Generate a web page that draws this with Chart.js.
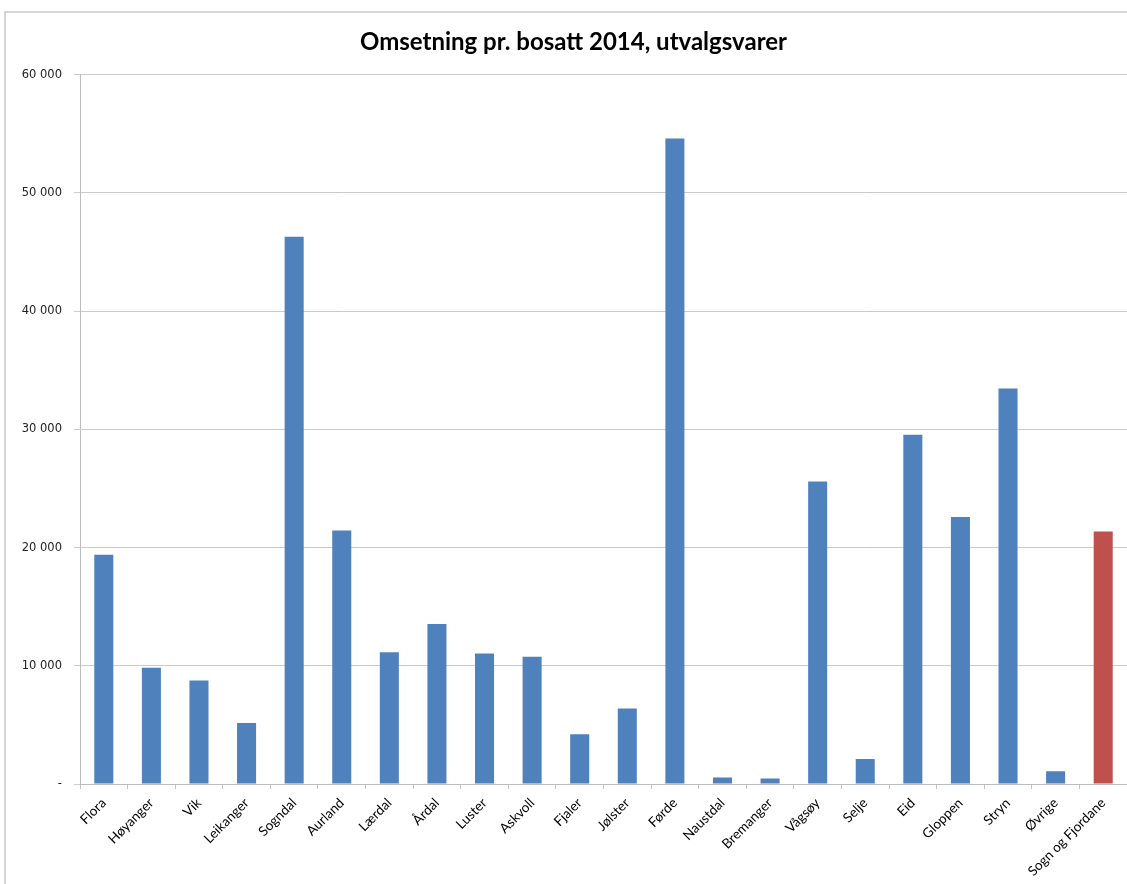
<!DOCTYPE html>
<html>
<head>
<meta charset="utf-8">
<script src="https://cdn.jsdelivr.net/npm/chart.js@4"></script>
<style>
  html, body { margin: 0; padding: 0; background: #fff; }
  #wrap { position: relative; width: 1127px; height: 884px; overflow: hidden; }
  #frame { position: absolute; left: 4px; top: 11px; width: 1200px; height: 900px; border-top: 2px solid #d6d6d6; border-left: 2px solid #d6d6d6; }
  canvas { position: absolute; left: 0; top: 0; }
</style>
</head>
<body>
<div id="wrap">
  <div id="frame"></div>
  <canvas id="omsetning" width="1127" height="884"></canvas>
</div>
<script>
// Omsetning pr. bosatt, utvalgsvarer (kr), per kommune
const kommuner = ['Flora', 'Høyanger', 'Vik', 'Leikanger', 'Sogndal', 'Aurland', 'Lærdal', 'Årdal', 'Luster', 'Askvoll', 'Fjaler', 'Jølster', 'Førde', 'Naustdal', 'Bremanger', 'Vågsøy', 'Selje', 'Eid', 'Gloppen', 'Stryn', 'Øvrige', 'Sogn og Fjordane'];
const omsetning = [19400, 9830, 8760, 5170, 46300, 21440, 11140, 13530, 11050, 10760, 4210, 6390, 54610, 540, 460, 25590, 2120, 29550, 22580, 33450, 1080, 21360];
const yTicks = [0, 10000, 20000, 30000, 40000, 50000, 60000];

const BLA = '#4F81BD';
const ROD = '#C0504D';
// fylket totalt i rødt, kommunene i blått
const farger = kommuner.map(k => k === 'Sogn og Fjordane' ? ROD : BLA);

const fmt = v => v === 0 ? '-' : String(v).replace(/\B(?=(\d{3})+(?!\d))/g, ' ');

new Chart(document.getElementById('omsetning').getContext('2d'), {
    type: 'bar',
    data: {
        labels: kommuner,
        datasets: [{
            data: omsetning,
            backgroundColor: farger,
            borderWidth: 0,
            barPercentage: 0.4,
            categoryPercentage: 1.0
        }]
    },
    options: {
        responsive: false,
        animation: false,
        layout: { padding: { left: 20, top: 0, right: 0, bottom: 0 } },
        plugins: {
            legend: { display: false },
            tooltip: { enabled: false },
            title: {
                display: true,
                text: 'Omsetning pr. bosatt 2014, utvalgsvarer',
                color: '#000',
                font: { family: 'Lato', size: 24, weight: 'bold' },
                padding: { top: 28, bottom: 18 }
            }
        },
        scales: {
            x: {
                grid: { drawOnChartArea: false, drawTicks: true, tickLength: 5, color: '#c4c4c4', offset: true },
                border: { color: '#bdbdbd' },
                ticks: {
                    color: '#000',
                    font: { family: 'Lato', size: 13.5 },
                    minRotation: 45,
                    maxRotation: 45,
                    autoSkip: false,
                    padding: 6
                },
                afterFit(scale) { scale.height = 100; }
            },
            y: {
                min: 0,
                max: 60000,
                afterBuildTicks(scale) { scale.ticks = yTicks.map(v => ({ value: v })); },
                grid: { color: '#cacaca', tickLength: 6 },
                border: { color: '#bdbdbd' },
                ticks: {
                    color: '#222',
                    font: { family: 'DejaVu Sans', size: 11.5 },
                    padding: 12,
                    callback: v => fmt(v)
                },
                afterFit(scale) { scale.width = 60; }
            }
        }
    }
});
</script>
</body>
</html>
